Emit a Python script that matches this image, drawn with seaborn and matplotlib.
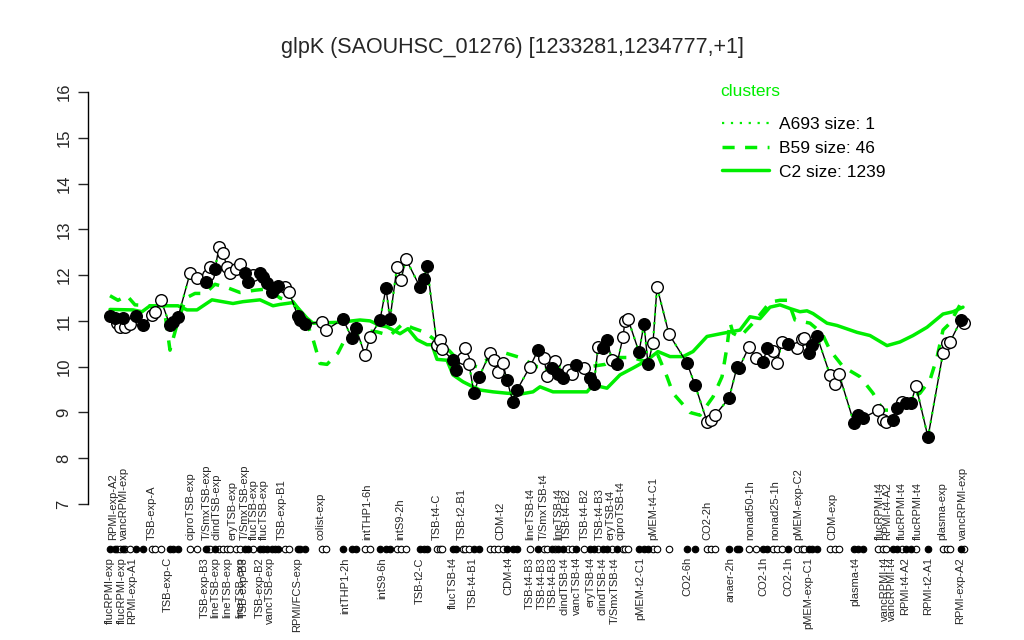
import matplotlib
matplotlib.use("Agg")
import matplotlib.pyplot as plt
import numpy as np
import pandas as pd
import seaborn as sns
from matplotlib.lines import Line2D

sns.set_style("white")
plt.rcParams['font.family'] = ['Liberation Sans', 'DejaVu Sans']

green = '#00ee00'

# condition position along the x axis, expression value, filled marker or not
pos = [0, 5, 7, 10, 13, 15, 20, 26, 33, 42, 45, 51, 60, 63, 68, 80, 87, 96, 98, 100,
       105, 109, 113, 117, 120, 126, 130, 135, 138, 143, 150, 153, 157, 162, 165, 168,
       175, 179, 188, 190, 195, 212, 216, 233, 242, 246, 255, 260, 270, 276, 280, 287,
       291, 296, 310, 314, 317, 327, 330, 332, 343, 346, 353, 355, 359, 364, 369, 380,
       384, 388, 393, 397, 403, 407, 420, 428, 434, 437, 442, 445, 448, 453, 458, 462,
       466, 474, 480, 484, 488, 493, 497, 502, 507, 513, 515, 518, 529, 534, 538, 543,
       547, 559, 577, 585, 597, 601, 605, 619, 627, 629, 639, 646, 653, 657, 663, 667,
       672, 678, 687, 692, 694, 699, 702, 707, 720, 725, 729, 744, 748, 753, 768, 773,
       776, 783, 787, 792, 796, 801, 806, 818, 833, 837, 840, 851, 854]
expr = [11.10, 11.06, 10.95, 10.87, 11.06, 10.87, 10.93, 11.10, 10.90, 11.13, 11.20, 11.45,
        10.90, 10.97, 11.08, 12.04, 11.93, 11.85, 12.00, 12.18, 12.13, 12.61, 12.48, 12.18,
        12.04, 12.13, 12.24, 12.04, 11.85, 12.00, 12.04, 11.96, 11.82, 11.63, 11.72, 11.76,
        11.74, 11.63, 11.10, 11.02, 10.93, 10.98, 10.80, 11.04, 10.62, 10.84, 10.25, 10.65,
        11.02, 11.72, 11.04, 12.18, 11.90, 12.35, 11.74, 11.91, 12.20, 10.47, 10.58, 10.38,
        10.14, 9.93, 10.20, 10.40, 10.06, 9.42, 9.77, 10.30, 10.14, 9.88, 10.07, 9.70,
        9.23, 9.49, 10.00, 10.36, 10.19, 9.80, 9.97, 10.12, 9.85, 9.75, 9.93, 9.85,
        10.03, 9.97, 9.75, 9.62, 10.43, 10.40, 10.58, 10.14, 10.06, 10.65, 11.00, 11.04,
        10.32, 10.93, 10.06, 10.52, 11.74, 10.71, 10.08, 9.60, 8.80, 8.83, 8.94, 9.31,
        9.99, 9.97, 10.43, 10.20, 10.10, 10.40, 10.34, 10.08, 10.54, 10.49, 10.40, 10.60,
        10.62, 10.30, 10.47, 10.67, 9.82, 9.62, 9.84, 8.77, 8.94, 8.88, 9.05, 8.83,
        8.80, 8.83, 9.09, 9.23, 9.20, 9.20, 9.58, 8.46, 10.30, 10.52, 10.54, 11.02, 10.95]
filled = [1, 1, 0, 0, 1, 0, 0, 1, 1, 0, 0, 0, 1, 1, 1, 0, 0, 1, 0, 0,
          1, 0, 0, 0, 0, 0, 0, 1, 1, 0, 1, 1, 1, 1, 1, 1,
          0, 0, 1, 1, 1, 0, 0, 1, 1, 1, 0, 0, 1, 1, 1, 0,
          0, 0, 1, 1, 1, 0, 0, 0, 1, 1, 0, 0, 0, 1, 1, 0,
          0, 0, 0, 1, 1, 1, 0, 1, 0, 0, 1, 0, 1, 1, 0, 0,
          1, 0, 1, 1, 0, 1, 1, 0, 1, 0, 0, 0, 1, 1, 1, 0,
          0, 0, 1, 1, 0, 0, 0, 1, 1, 1, 0, 0, 1, 1, 0, 0,
          0, 1, 0, 0, 0, 1, 1, 1, 0, 0, 0, 1, 1, 1, 0, 0,
          0, 1, 1, 0, 1, 1, 0, 1, 0, 0, 0, 1, 0]

# cluster C2 (solid) and B59 (dashed) profiles
c2_pos = [0, 23, 32, 40, 68, 77, 87, 102, 123, 133, 150, 163, 170, 183, 197, 203,
          230, 250, 260, 270, 277, 290, 298, 307, 317, 322, 327, 337, 343, 353, 363,
          370, 383, 397, 410, 423, 430, 443, 463, 477, 483, 497, 510, 523, 537, 548,
          560, 573, 583, 597, 613, 630, 640, 650, 660, 670, 680, 690, 697, 703, 717,
          727, 747, 760, 777, 790, 803, 817, 833, 843, 853]
c2_val = [11.25, 11.24, 11.20, 11.33, 11.33, 11.24, 11.24, 11.46, 11.38, 11.42, 11.46,
          11.33, 11.36, 11.40, 11.06, 10.95, 10.97, 11.02, 11.00, 10.90, 10.87, 10.72,
          10.83, 10.59, 10.48, 10.48, 10.16, 10.14, 9.82, 9.67, 9.56, 9.49, 9.45, 9.42,
          9.40, 9.45, 9.56, 9.45, 9.45, 9.45, 9.60, 9.53, 9.82, 9.97, 10.14, 10.33,
          10.22, 10.22, 10.33, 10.66, 10.73, 10.80, 11.09, 11.05, 11.30, 11.35, 11.27,
          11.20, 11.22, 11.16, 10.95, 10.90, 10.75, 10.68, 10.46, 10.54, 10.68, 10.86,
          11.15, 11.20, 11.30]
b59_pos = [0, 8, 17, 25, 40, 55, 60, 68, 76, 85, 95, 105, 118, 130, 145, 158, 170,
           183, 195, 203, 210, 217, 228, 235, 250, 267, 280, 293, 302, 315, 327, 337,
           350, 367, 380, 395, 410, 427, 445, 465, 480, 495, 507, 522, 538, 548, 557,
           563, 580, 590, 603, 612, 617, 620, 623, 630, 645, 660, 670, 678, 685, 700,
           712, 720, 733, 750, 763, 773, 783, 797, 810, 820, 827, 833, 840, 850, 853]
b59_val = [11.55, 11.45, 11.55, 11.35, 11.33, 11.15, 10.36, 11.00, 11.50, 11.60, 11.60,
           11.80, 11.72, 11.62, 11.67, 11.70, 11.50, 11.42, 11.06, 10.60, 10.07, 10.05,
           10.30, 10.60, 10.80, 10.76, 10.68, 10.94, 10.85, 10.75, 10.55, 10.40, 10.10,
           10.00, 10.20, 10.30, 10.20, 10.00, 10.00, 10.00, 10.00, 10.05, 10.20, 10.20,
           10.10, 10.25, 9.78, 9.42, 9.00, 8.94, 9.34, 9.78, 10.43, 10.97, 10.73, 10.65,
           11.00, 11.41, 11.45, 11.45, 11.02, 10.95, 10.73, 10.36, 10.00, 9.78, 9.42,
           9.05, 9.05, 9.27, 9.42, 9.71, 10.20, 10.80, 10.95, 11.35, 11.40]

top_labels = ['RPMI-exp-A2', 'vancRPMI-exp', 'TSB-exp-A', 'ciproTSB-exp', 'T/SmxTSB-exp',
              'clindTSB-exp', 'eryTSB-exp', 'T/SmxTSB-exp', 'flucTSB-exp', 'flucTSB-exp',
              'TSB-exp-B1', 'colist-exp', 'intTHP1-6h', 'intS9-2h', 'TSB-t4-C', 'TSB-t2-B1',
              'CDM-t2', 'lineTSB-t4', 'T/SmxTSB-t4', 'lineTSB-t4', 'TSB-t4-B2', 'TSB-t4-B2',
              'TSB-t4-B3', 'eryTSB-t4', 'ciproTSB-t4', 'pMEM-t4-C1', 'CO2-2h', 'nonad50-1h',
              'nonad25-1h', 'pMEM-exp-C2', 'CDM-exp', 'flucRPMI-t4', 'RPMI-t4-A2',
              'flucRPMI-t4', 'flucRPMI-t4', 'plasma-exp', 'vancRPMI-exp']
top_pos = [3, 14, 42, 80, 97, 106, 122, 135, 144, 154, 172, 210, 257, 290, 327, 352,
           390, 420, 434, 448, 457, 475, 490, 501, 511, 543, 597, 640, 665, 688, 722,
           770, 777, 792, 808, 832, 853]
bottom_labels = ['flucRPMI-exp', 'flucRPMI-exp', 'RPMI-exp-A1', 'TSB-exp-C', 'TSB-exp-B3',
                 'lineTSB-exp', 'lineTSB-exp', 'lineTSB-exp', 'TSB-exp-B3', 'TSB-exp-B2',
                 'vancTSB-exp', 'RPMI/FCS-exp', 'intTHP1-2h', 'intS9-6h', 'TSB-t2-C',
                 'flucTSB-t4', 'TSB-t4-B1', 'CDM-t4', 'TSB-t4-B3', 'TSB-t4-B3', 'TSB-t4-B3',
                 'clindTSB-t4', 'vancTSB-t4', 'eryTSB-t4', 'clindTSB-t4', 'T/SmxTSB-t4',
                 'pMEM-t2-C1', 'CO2-6h', 'anaer-2h', 'CO2-1h', 'CO2-1h', 'pMEM-exp-C1',
                 'plasma-t4', 'vancRPMI-t4', 'vancRPMI-t4', 'RPMI-t4-A2', 'RPMI-t2-A1',
                 'RPMI-exp-A2']
bottom_pos = [0, 12, 22, 58, 95, 105, 117, 130, 134, 150, 160, 187, 235, 272, 310, 343,
              363, 398, 420, 432, 443, 455, 467, 480, 493, 505, 530, 577, 620, 653, 678,
              698, 745, 775, 782, 795, 818, 850]

legend_labels = ['A693 size: 1', 'B59 size: 46', 'C2 size: 1239']

df = pd.DataFrame({'pos': pos, 'expr': expr, 'filled': filled})
c2 = pd.DataFrame({'pos': c2_pos, 'val': c2_val})
b59 = pd.DataFrame({'pos': b59_pos, 'val': b59_val})

fig = plt.figure(figsize=(10.24, 6.4), dpi=100)
ax = fig.add_axes([88 / 1024, 1 - 504 / 640, (985 - 88) / 1024, (504 - 92) / 640])

sns.lineplot(data=c2, x='pos', y='val', ax=ax, color=green, lw=2.5, sort=False,
             estimator=None)
sns.lineplot(data=b59, x='pos', y='val', ax=ax, color=green, lw=2.5, sort=False,
             estimator=None, linestyle=(0, (3.5, 3)))
sns.lineplot(data=df, x='pos', y='expr', ax=ax, color='black', lw=1, sort=False,
             estimator=None)
ax.plot(df['pos'], df['expr'], color=green, lw=1.6, linestyle=(0, (1, 3)))

op = df[df.filled == 0]
fl = df[df.filled == 1]
sns.scatterplot(data=op, x='pos', y='expr', ax=ax, s=70, color='white',
                edgecolor='black', linewidth=1, zorder=5)
sns.scatterplot(data=fl, x='pos', y='expr', ax=ax, s=70, color='black',
                edgecolor='black', linewidth=1, zorder=6)

# row of condition markers under the plot
row_y = 6.02
ax.scatter(op['pos'], [row_y] * len(op), s=22, facecolor='white', edgecolor='black',
           linewidth=0.8, clip_on=False, zorder=5)
ax.scatter(fl['pos'], [row_y] * len(fl), s=22, facecolor='black', edgecolor='black',
           linewidth=0.8, clip_on=False, zorder=6)

for lab, p in zip(top_labels, top_pos):
    ax.text(p, 6.21, lab, rotation=90, ha='center', va='bottom', fontsize=8,
            clip_on=False)
for lab, p in zip(bottom_labels, bottom_pos):
    ax.text(p, 5.84, lab, rotation=90, ha='center', va='top', fontsize=8,
            clip_on=False)

ax.set_xlim(-22, 875)
ax.set_ylim(7, 16)
ax.set_yticks(range(7, 17))
ax.set_yticklabels([str(v) for v in range(7, 17)], rotation=90, va='center',
                   fontsize=12)
ax.tick_params(axis='y', direction='out', length=7, width=1, left=True, pad=5)
ax.set_xticks([])
ax.set_xlabel('')
ax.set_ylabel('')
for s in ['top', 'right', 'bottom']:
    ax.spines[s].set_visible(False)
ax.spines['left'].set_color('black')
ax.spines['left'].set_linewidth(1)

fig.text(0.5, 1 - 48 / 640, 'glpK (SAOUHSC_01276) [1233281,1234777,+1]',
         fontsize=15.5, ha='center', va='center')

handles = [Line2D([], [], color=green, lw=1.6, linestyle=(0, (1, 3))),
           Line2D([], [], color=green, lw=2.5, linestyle=(0, (3.5, 3))),
           Line2D([], [], color=green, lw=2.5)]
leg = ax.legend(handles, legend_labels, loc='upper left',
                bbox_to_anchor=(0.689, 0.978), frameon=False, fontsize=12.5,
                handlelength=2.75, handletextpad=0.55, labelspacing=0.5)
for t in leg.get_texts():
    t.set_color('black')
fig.text(720 / 1024, 1 - 92 / 640, 'clusters', color=green, fontsize=12.5,
         ha='left', va='center')

fig.savefig('out.png', dpi=100)
